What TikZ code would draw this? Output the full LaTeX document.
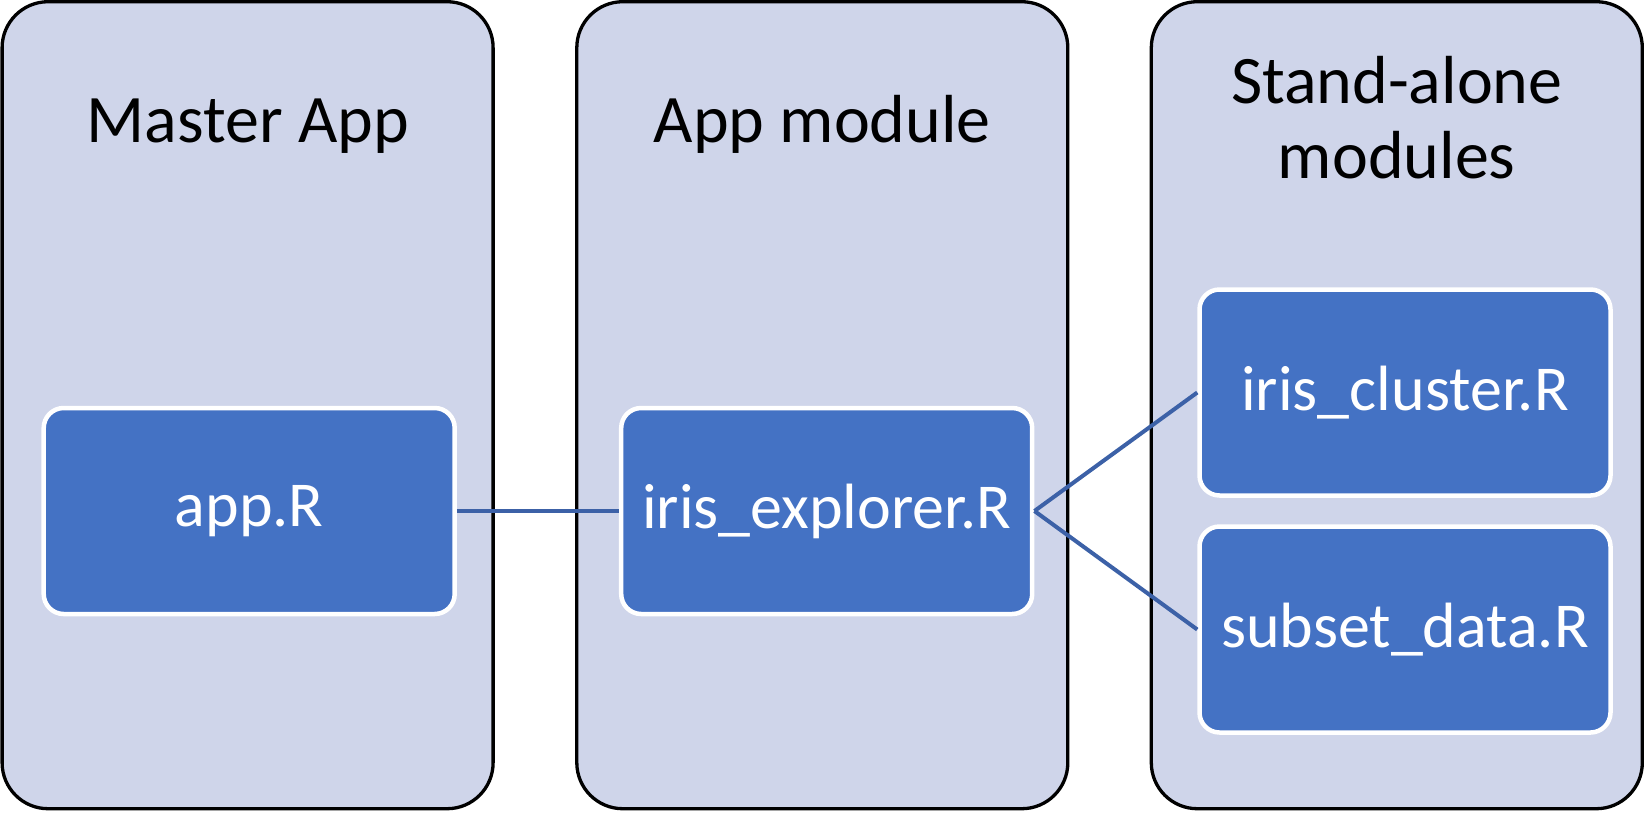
\documentclass[tikz,border=0pt]{standalone}
\usepackage{fontspec}
\setmainfont{Carlito}
\definecolor{panelfill}{HTML}{CFD5EA}
\definecolor{fileblue}{HTML}{4472C4}
\definecolor{linkblue}{HTML}{3C61A7}
\tikzset{
  panel/.style={draw=black, line width=3.3pt, fill=panelfill, rounded corners=46pt,
    minimum width=491pt, minimum height=807pt, inner sep=0pt},
  filebox/.style={draw=white, line width=4.5pt, fill=fileblue, rounded corners=20pt,
    minimum width=411pt, minimum height=206pt, inner sep=0pt, text=white,
    font=\fontsize{64}{74}\selectfont},
  paneltitle/.style={anchor=base, font=\fontsize{68}{75}\selectfont, align=center, inner sep=0pt},
  link/.style={draw=linkblue, line width=4pt}
}
\begin{document}
\begin{tikzpicture}[x=1pt,y=-1pt]
\useasboundingbox (0,0) rectangle (1645,812);
% panels
\node[panel] (p1) at (247.6,405.2) {};
\node[panel] (p2) at (822.3,405.2) {};
\node[panel] (p3) at (1396.8,405.2) {};
% titles
\node[paneltitle] (t1) at (248,142) {Master App};
\node[paneltitle] (t2) at (822.3,142) {App module};
\node[paneltitle] (t3) at (1396.8,178) {Stand-alone\\modules};
% files
\node[filebox] (app) at (249.2,511) {app.R};
\node[filebox] (explorer) at (826.7,511) {iris\_explorer.R};
\node[filebox] (cluster) at (1405,392.5) {iris\_cluster.R};
\node[filebox] (subset) at (1405,629.5) {subset\_data.R};
% connectors
\draw[link] (app.east) -- (explorer.west);
\draw[link] (explorer.east) -- (cluster.west);
\draw[link] (explorer.east) -- (subset.west);
\end{tikzpicture}
\end{document}
